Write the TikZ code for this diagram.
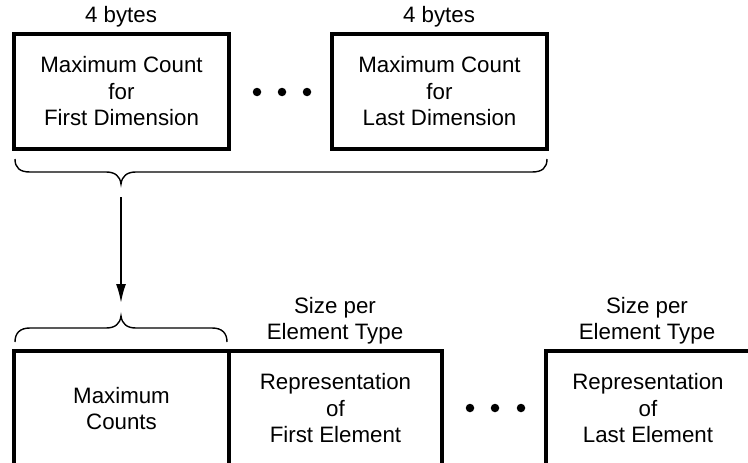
\documentclass[tikz,border=0pt]{standalone}
\usepackage{fontspec}
\setmainfont{Liberation Sans}
\usetikzlibrary{arrows.meta}
\begin{document}
\begin{tikzpicture}[x=1pt,y=-1pt,
  lbl/.style={font=\fontsize{22.3}{26.5}\selectfont, align=center, inner sep=0pt},
  boxnode/.style={lbl, draw, line width=3.5pt, minimum height=115pt},
  dotnode/.style={circle, fill, inner sep=0pt, minimum size=8.5pt},
  bracepath/.style={line width=1.4pt},
  arrowpath/.style={line width=2pt, -{Latex[length=19pt,width=10pt]}}]
\useasboundingbox (0,0) rectangle (748,463);
\clip (0,0) rectangle (748,463);
% top row
\node[boxnode, minimum width=215pt] (t1) at (121.5,91.5) {Maximum Count\\for\\First Dimension};
\node[boxnode, minimum width=215pt] (t2) at (439.5,91.5) {Maximum Count\\for\\Last Dimension};
\node[lbl] (b1) at (121,17) {4 bytes};
\node[lbl] (b2) at (439,17) {4 bytes};
\node[dotnode] (d1) at (257,92) {};
\node[dotnode] (d2) at (282,92) {};
\node[dotnode] (d3) at (307,92) {};
% top brace
\draw[bracepath] (15,159) .. controls (15,168) and (20,172) .. (30,172) -- (106,172)
  .. controls (115,172) and (120,176) .. (121,184)
  .. controls (122,176) and (127,172) .. (136,172) -- (532,172)
  .. controls (542,172) and (547,168) .. (547,159);
\coordinate (ttip) at (121,184);
\coordinate (btip) at (121,316);
\draw[arrowpath, shorten <=13pt, shorten >=13pt] (ttip) -- (btip);
% bottom brace
\draw[bracepath] (15,342) .. controls (15,333) and (20,328) .. (30,328) -- (106,328)
  .. controls (115,328) and (120,324) .. (121,316)
  .. controls (122,324) and (127,328) .. (136,328) -- (212,328)
  .. controls (222,328) and (227,333) .. (227,342);
% bottom row
\node[boxnode, minimum width=215pt] (m1) at (121.5,408.5) {Maximum\\Counts};
\node[boxnode, minimum width=213pt] (m2) at (335.5,408.5) {Representation\\of\\First Element};
\node[boxnode, minimum width=204pt] (m3) at (648,408.5) {Representation\\of\\Last Element};
\node[lbl] (s1) at (335,320.5) {Size per\\Element Type};
\node[lbl] (s2) at (647,320.5) {Size per\\Element Type};
\node[dotnode] (e1) at (470,408) {};
\node[dotnode] (e2) at (495,408) {};
\node[dotnode] (e3) at (521,408) {};
\end{tikzpicture}
\end{document}
